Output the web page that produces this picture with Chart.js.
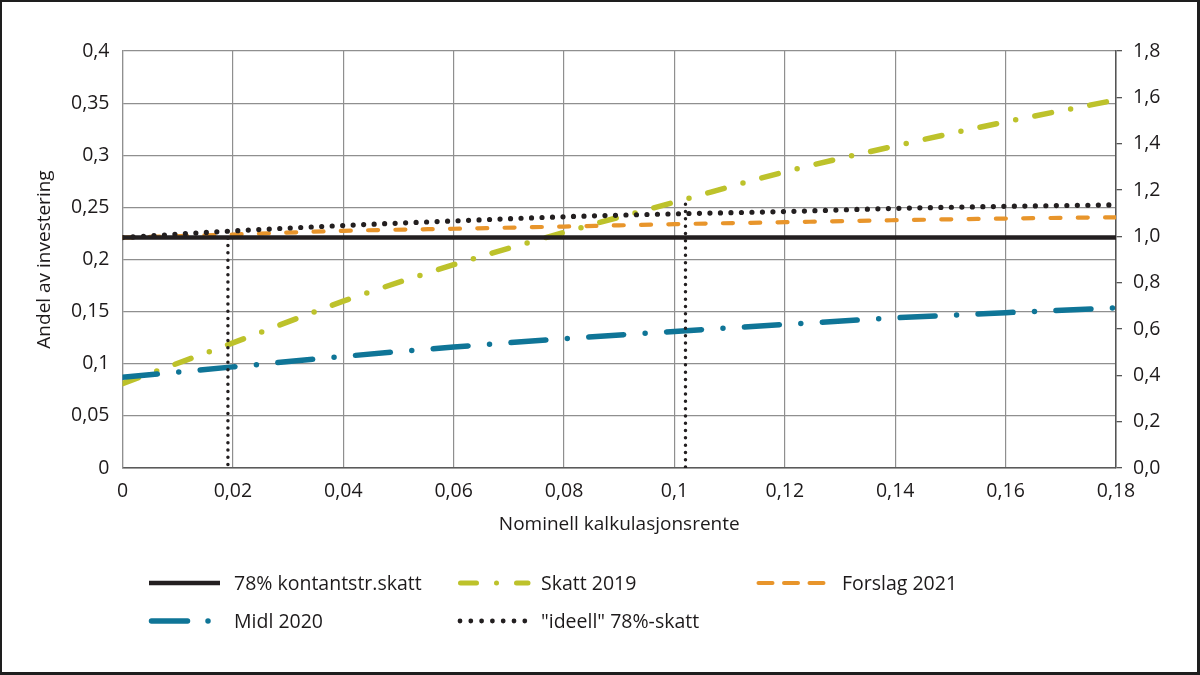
<!DOCTYPE html>
<html>
<head>
<meta charset="utf-8">
<script src="https://cdn.jsdelivr.net/npm/chart.js@4.4.1/dist/chart.umd.min.js"></script>
<style>
  html, body { margin: 0; padding: 0; background: #fff; }
  #wrap { position: relative; width: 1200px; height: 675px; overflow: hidden; font-family: "Open Sans", "Noto Sans", sans-serif; color: #1d1a1b; }
  #frame { position: absolute; left: 0; top: 0; width: 1200px; height: 675px; box-sizing: border-box; border-style: solid; border-color: #1e1e1e; border-width: 2px 3px 3px 2px; pointer-events: none; }
  canvas { position: absolute; left: 0; top: 0; }
  .lg { position: absolute; font-size: 19.5px; font-weight: 500; line-height: 24px; transform: translateY(-50%); white-space: nowrap; }
  #legendSvg { position: absolute; left: 0; top: 0; }
</style>
</head>
<body>
<div id="wrap">
  <canvas id="c" width="1200" height="675"></canvas>
  <svg id="legendSvg" width="1200" height="675"></svg>
  <div id="legend"></div>
  <div id="frame"></div>
</div>
<script>
// ---- data ----
const xValues = [0, 0.02, 0.04, 0.06, 0.08, 0.10, 0.12, 0.14, 0.16, 0.18];
const kontantstrSkatt = [0.221, 0.221, 0.221, 0.221, 0.221, 0.221, 0.221, 0.221, 0.221, 0.221];
const skatt2019 = [0.081, 0.120, 0.160, 0.195, 0.226, 0.255, 0.284, 0.309, 0.332, 0.353];
const forslag2021 = [0.221, 0.224, 0.2275, 0.2295, 0.2316, 0.2339, 0.2358, 0.2377, 0.2393, 0.2405];
const midl2020 = [0.087, 0.097, 0.107, 0.116, 0.124, 0.131, 0.1377, 0.144, 0.149, 0.1536];
const ideell = [0.221, 0.2274, 0.2326, 0.237, 0.241, 0.2438, 0.246, 0.249, 0.251, 0.2524];
const markerX = [0.0191, 0.102];
const markerTop = [0.2274, 0.253];

const seriesNames = ['78% kontantstr.skatt', 'Skatt 2019', 'Forslag 2021', 'Midl 2020', '"ideell" 78%-skatt'];
const xTickLabels = ['0', '0,02', '0,04', '0,06', '0,08', '0,1', '0,12', '0,14', '0,16', '0,18'];
const yLeftTickLabels = ['0', '0,05', '0,1', '0,15', '0,2', '0,25', '0,3', '0,35', '0,4'];
const yRightTickLabels = ['0,0', '0,2', '0,4', '0,6', '0,8', '1,0', '1,2', '1,4', '1,6', '1,8'];
const xTitle = 'Nominell kalkulasjonsrente';
const yTitle = 'Andel av investering';

// ---- styles ----
const C_BLACK = '#231f20', C_YELLOW = '#bdc22b', C_ORANGE = '#e8952b', C_TEAL = '#0f7597';
const C_TEXT = '#1d1a1b';
const FONT = '"Open Sans", "Noto Sans", sans-serif';
const tickFont = { family: FONT, size: 19.5, weight: '500' };
const titleFont = { family: FONT, size: 19, weight: '500' };

const pts = (ys) => xValues.map((x, i) => ({ x: x, y: ys[i] }));
const base = { pointRadius: 0, pointHoverRadius: 0, fill: false, cubicInterpolationMode: 'monotone', borderCapStyle: 'round', borderJoinStyle: 'round' };

const datasets = [
  Object.assign({}, base, { label: 'markerA', data: [{ x: markerX[0], y: markerTop[0] }, { x: markerX[0], y: 0 }], borderColor: C_BLACK, borderWidth: 3.5, borderDash: [0, 7.3], cubicInterpolationMode: 'default', tension: 0 }),
  Object.assign({}, base, { label: 'markerB', data: [{ x: markerX[1], y: markerTop[1] }, { x: markerX[1], y: 0 }], borderColor: C_BLACK, borderWidth: 3.5, borderDash: [0, 7.3], cubicInterpolationMode: 'default', tension: 0 }),
  Object.assign({}, base, { label: seriesNames[4], data: pts(ideell), borderColor: C_BLACK, borderWidth: 5.2, borderDash: [0, 10.5] }),
  Object.assign({}, base, { label: seriesNames[0], data: pts(kontantstrSkatt), borderColor: C_BLACK, borderWidth: 4.5, borderCapStyle: 'butt' }),
  Object.assign({}, base, { label: seriesNames[2], data: pts(forslag2021), borderColor: C_ORANGE, borderWidth: 4.2, borderDash: [10, 17.3] }),
  Object.assign({}, base, { label: seriesNames[3], data: pts(midl2020), borderColor: C_TEAL, borderWidth: 5.5, borderDash: [35, 21.5, 0, 21.5] }),
  Object.assign({}, base, { label: seriesNames[1], data: pts(skatt2019), borderColor: C_YELLOW, borderWidth: 5.5, borderDash: [17, 19.5, 0, 19.5] })
];

new Chart(document.getElementById('c'), {
  type: 'line',
  data: { datasets: datasets },
  options: {
    responsive: false,
    animation: false,
    devicePixelRatio: 1,
    layout: { padding: { left: 10, right: 10, top: 51, bottom: 127 } },
    plugins: { legend: { display: false }, tooltip: { enabled: false } },
    scales: {
      x: {
        type: 'linear', min: 0, max: 0.18,
        afterFit: (s) => { s.height = 80; },
        afterBuildTicks: (s) => { s.ticks = xValues.map(v => ({ value: v })); },
        ticks: { callback: (v, i) => xTickLabels[i], font: tickFont, color: C_TEXT, padding: 12, maxRotation: 0, autoSkip: false },
        grid: { color: '#8f8f8f', lineWidth: 1.2, drawTicks: false },
        border: { display: true, color: '#5a5a5a', width: 1.5 },
        title: { display: true, text: xTitle, font: titleFont, color: C_TEXT, padding: { top: 0, bottom: 12 } }
      },
      y: {
        type: 'linear', position: 'left', min: 0, max: 0.4,
        afterFit: (s) => { s.width = 112.5; },
        afterBuildTicks: (s) => { s.ticks = yLeftTickLabels.map((t, i) => ({ value: i * 0.05 })); },
        ticks: { callback: (v, i) => yLeftTickLabels[i], font: tickFont, color: C_TEXT, padding: 13 },
        grid: { color: '#8f8f8f', lineWidth: 1.2, drawTicks: false },
        border: { display: true, color: '#8f8f8f', width: 1.2 },
        title: { display: true, text: yTitle, font: titleFont, color: C_TEXT, padding: { top: 23, bottom: 0 } }
      },
      y2: {
        type: 'linear', position: 'right', min: 0, max: 1.8,
        afterFit: (s) => { s.width = 74; },
        afterBuildTicks: (s) => { s.ticks = yRightTickLabels.map((t, i) => ({ value: i * 0.2 })); },
        ticks: { callback: (v, i) => yRightTickLabels[i], font: tickFont, color: C_TEXT, padding: 11 },
        grid: { drawOnChartArea: false, drawTicks: true, tickLength: 6, color: '#555', lineWidth: 1.3 },
        border: { display: true, color: '#555', width: 1.5 }
      }
    }
  }
});

// ---- legend (HTML text + SVG samples) ----
const legendItems = [
  { name: seriesNames[0], textX: 234, y: 583, line: { x1: 149, x2: 220, color: C_BLACK, w: 4.5, dash: '', cap: 'butt' } },
  { name: seriesNames[1], textX: 541, y: 583, line: { x1: 460.5, x2: 528, color: C_YELLOW, w: 5, dash: '16 20 0 20', cap: 'round' } },
  { name: seriesNames[2], textX: 842, y: 583, line: { x1: 758.5, x2: 827, color: C_ORANGE, w: 4, dash: '14 11.5', cap: 'round' } },
  { name: seriesNames[3], textX: 234, y: 621, line: { x1: 151.5, x2: 209, color: C_TEAL, w: 5.5, dash: '36 20.5 0 100', cap: 'round' } },
  { name: seriesNames[4], textX: 541, y: 621, line: { x1: 460, x2: 526, color: C_BLACK, w: 4.8, dash: '0 10.8', cap: 'round' } }
];
const svg = document.getElementById('legendSvg');
const leg = document.getElementById('legend');
legendItems.forEach(it => {
  const l = document.createElementNS('http://www.w3.org/2000/svg', 'line');
  l.setAttribute('x1', it.line.x1); l.setAttribute('x2', it.line.x2);
  l.setAttribute('y1', it.y); l.setAttribute('y2', it.y);
  l.setAttribute('stroke', it.line.color); l.setAttribute('stroke-width', it.line.w);
  l.setAttribute('stroke-linecap', it.line.cap);
  if (it.line.dash) l.setAttribute('stroke-dasharray', it.line.dash);
  svg.appendChild(l);
  const d = document.createElement('div');
  d.className = 'lg';
  d.style.left = it.textX + 'px';
  d.style.top = it.y + 'px';
  d.textContent = it.name;
  leg.appendChild(d);
});
</script>
</body>
</html>
